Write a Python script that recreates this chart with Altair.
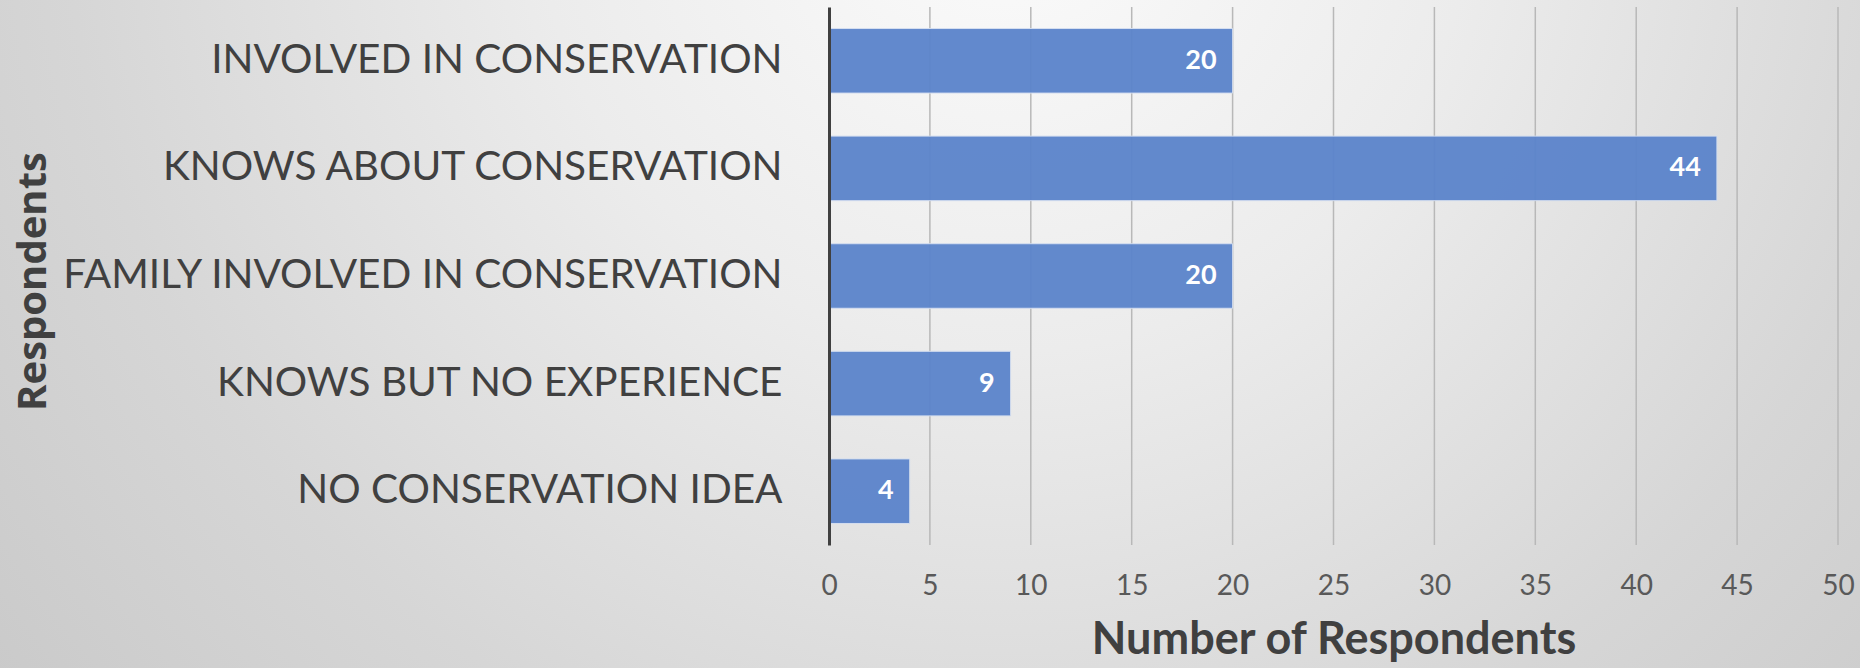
import altair as alt
import pandas as pd

categories = [
    "INVOLVED IN CONSERVATION",
    "KNOWS ABOUT CONSERVATION",
    "FAMILY INVOLVED IN CONSERVATION",
    "KNOWS BUT NO EXPERIENCE",
    "NO CONSERVATION IDEA",
]
values = [20, 44, 20, 9, 4]
x_ticks = [0, 5, 10, 15, 20, 25, 30, 35, 40, 45, 50]

df = pd.DataFrame({"category": categories, "value": values})
grid_df = pd.DataFrame({"tick": x_ticks[1:]})

W, H = 1009, 538
PAD_L, PAD_T = 829, 7

x_scale = alt.Scale(domain=[0, 50], nice=False)

bg = alt.Chart(pd.DataFrame({"a": [0]})).mark_rect(
    color=alt.RadialGradient(
        gradient="radial",
        x1=0.54, y1=0.0, r1=0.0,
        x2=0.54, y2=0.0, r2=0.72,
        stops=[
            alt.GradientStop(offset=0.0, color="#fcfcfc"),
            alt.GradientStop(offset=0.35, color="#ececec"),
            alt.GradientStop(offset=0.7, color="#d6d6d6"),
            alt.GradientStop(offset=1.0, color="#c8c8c8"),
        ],
    )
).encode(
    x=alt.value(-PAD_L), x2=alt.value(1860 - PAD_L),
    y=alt.value(-PAD_T), y2=alt.value(1620),
)

grid = alt.Chart(grid_df).mark_rule(color="#b8b8b8", strokeWidth=1.5).encode(
    x=alt.X("tick:Q", scale=x_scale),
    y=alt.value(0), y2=alt.value(H),
)

y_enc = alt.Y(
    "category:N",
    sort=categories,
    scale=alt.Scale(paddingInner=0.4, paddingOuter=0.2),
    axis=alt.Axis(
        zindex=2,
        title="Respondents",
        titleFont="Open Sans",
        titleFontWeight="bold",
        titleFontSize=40,
        titleColor="#404040",
        titleAngle=270,
        titleX=-796,
        titleY=274,
        titleAlign="center",
        titleBaseline="middle",
        labelFont="Lato",
        labelFontSize=40.5,
        labelColor="#404040",
        labelPadding=47,
        labelLimit=900,
        ticks=False,
        domainColor="#404040",
        domainWidth=3,
        grid=False,
    ),
)

x_enc = alt.X(
    "value:Q",
    scale=x_scale,
    axis=alt.Axis(
        zindex=2,
        values=x_ticks,
        labelFlush=False,
        title="Number of Respondents",
        titleFont="Lato",
        titleFontWeight="bold",
        titleFontSize=45,
        titleColor="#404040",
        titlePadding=17,
        labelFont="Lato",
        labelFontSize=28,
        labelColor="#595959",
        labelPadding=27,
        ticks=False,
        domain=False,
        grid=False,
    ),
)

bars = alt.Chart(df).mark_bar(
    color="#5b84cb", stroke="#d4def0", strokeWidth=1, opacity=0.95
).encode(x=x_enc, y=y_enc)

labels = alt.Chart(df).mark_text(
    align="right", baseline="middle", dx=-16,
    color="white", font="Lato", fontWeight="bold", fontSize=27,
).encode(x="value:Q", y=alt.Y("category:N", sort=categories), text="value:Q")

chart = alt.layer(bg, grid, bars, labels).properties(
    width=W, height=H,
    autosize=alt.AutoSizeParams(type="none"),
    padding={"left": PAD_L, "top": PAD_T, "right": 1860 - PAD_L - W, "bottom": 668 - PAD_T - H},
).configure_view(stroke=None).configure(background="#d8d8d8")

chart.save("out.html", embed_options={"renderer": "svg", "actions": False})
